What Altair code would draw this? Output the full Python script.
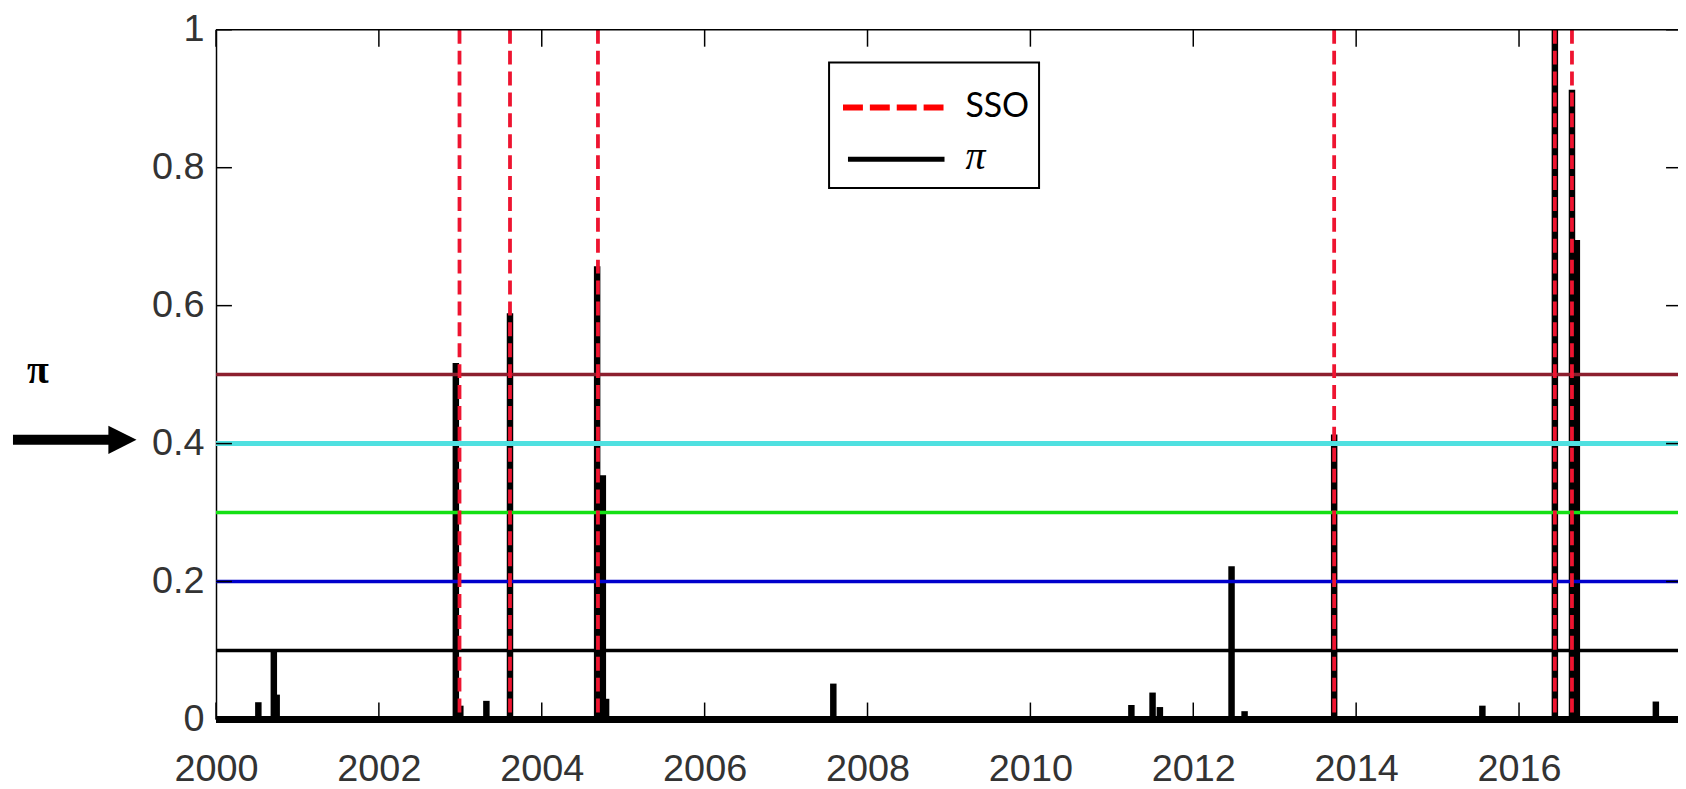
import altair as alt
import pandas as pd

# ---- data ----
pi_dates = [2000.52, 2000.71, 2000.745, 2002.945, 2003.0, 2003.32, 2003.61,
            2004.68, 2004.75, 2004.79, 2007.58, 2011.24, 2011.50, 2011.59,
            2012.47, 2012.63, 2013.73, 2015.55, 2016.44, 2016.65, 2016.71, 2017.68]
pi_values = [0.025, 0.102, 0.036, 0.517, 0.02, 0.027, 0.589,
             0.657, 0.354, 0.03, 0.052, 0.021, 0.039, 0.018,
             0.222, 0.012, 0.413, 0.02, 1.0, 0.913, 0.695, 0.026]
sso_dates = [2002.99, 2003.61, 2004.69, 2013.73, 2016.44, 2016.65]
threshold_levels = [0.5, 0.4, 0.3, 0.2, 0.1]
threshold_colors = ["#8C1F2E", "#4FE0E0", "#14E014", "#0000CC", "#000000"]
threshold_widths = [3.5, 5, 3.5, 3.5, 3.5]
x_tick_years = [2000, 2002, 2004, 2006, 2008, 2010, 2012, 2014, 2016]
y_tick_values = [0, 0.2, 0.4, 0.6, 0.8, 1.0]
x_start, x_end = 2000, 2017.952

W, H = 1469, 693

pi_df = pd.DataFrame({"date": pi_dates, "pi": pi_values, "base": [0.0] * len(pi_dates)})
base_df = pd.DataFrame({"x0": [x_start], "x1": [x_end], "y0": [0.0]})
thr_df = pd.DataFrame({"level": threshold_levels, "color": threshold_colors, "w": threshold_widths})
sso_df = pd.DataFrame({"date": sso_dates})
xt_df = pd.DataFrame({"year": x_tick_years})
yt_df = pd.DataFrame({"v": y_tick_values})
one = pd.DataFrame({"a": [0]})

xs = alt.Scale(domain=[x_start, x_end], nice=False, zero=False)
ys = alt.Scale(domain=[0, 1], nice=False, zero=False)
xaxis = alt.Axis(values=x_tick_years, format="d", title=None, tickSize=0, domain=False,
                 grid=False, labelFont="Liberation Sans", labelFontSize=38,
                 labelColor="#333333", labelPadding=31, labelFlush=False, labelOverlap=False)
yaxis = alt.Axis(values=y_tick_values, format="~g", title=None, tickSize=0, domain=True,
                 domainColor="black", domainWidth=1.5, grid=False,
                 labelFont="Liberation Sans", labelFontSize=38, labelColor="#333333",
                 labelPadding=12, labelOverlap=False)


def X(f):
    return alt.X(f, type="quantitative", scale=xs, axis=xaxis)


def Y(f):
    return alt.Y(f, type="quantitative", scale=ys, axis=yaxis)


stems = alt.Chart(pi_df).mark_rule(color="black", strokeWidth=6.5, strokeCap="butt").encode(
    x=X("date"), y=Y("base"), y2="pi")
baseline = alt.Chart(base_df).mark_rule(color="black", strokeWidth=7, strokeCap="butt").encode(
    x=X("x0"), x2="x1", y=Y("y0"))
thr = alt.Chart(thr_df).mark_rule(strokeCap="butt").encode(
    y=Y("level"),
    color=alt.Color("color:N", scale=None),
    strokeWidth=alt.StrokeWidth("w:Q", scale=None))
sso = alt.Chart(sso_df).mark_rule(color="#EE1430", strokeWidth=3.8, strokeDash=[14, 7],
                                  strokeCap="butt").encode(x=X("date"))

top_ticks = alt.Chart(xt_df).mark_rule(color="black", strokeWidth=1.5).encode(
    x=X("year"), y=alt.value(0), y2=alt.value(17))
bot_ticks = alt.Chart(xt_df).mark_rule(color="black", strokeWidth=1.5).encode(
    x=X("year"), y=alt.value(H - 17), y2=alt.value(H))
left_ticks = alt.Chart(yt_df).mark_rule(color="black", strokeWidth=1.5).encode(
    y=Y("v"), x=alt.value(0), x2=alt.value(16))
right_ticks = alt.Chart(yt_df).mark_rule(color="black", strokeWidth=1.5).encode(
    y=Y("v"), x=alt.value(W - 12), x2=alt.value(W))
frame_top = alt.Chart(one).mark_rule(color="black", strokeWidth=1.5).encode(
    x=alt.value(0), x2=alt.value(W), y=alt.value(0))

# legend (drawn by hand)
leg_box = alt.Chart(one).mark_rect(fill="white", stroke="black", strokeWidth=2).encode(
    x=alt.value(616), x2=alt.value(827), y=alt.value(33), y2=alt.value(159))
leg_sso = alt.Chart(one).mark_rule(color="#FF0000", strokeWidth=6, strokeDash=[20, 7],
                                   strokeCap="butt").encode(
    x=alt.value(630), x2=alt.value(731), y=alt.value(78))
leg_pi = alt.Chart(one).mark_rule(color="black", strokeWidth=5, strokeCap="butt").encode(
    x=alt.value(635), x2=alt.value(732), y=alt.value(130))
leg_t1 = alt.Chart(one).mark_text(text="SSO", font="Lato", fontSize=34, align="left",
                                  baseline="middle", color="black").encode(
    x=alt.value(753), y=alt.value(78))
leg_t2 = alt.Chart(one).mark_text(text="π", font="Liberation Serif", fontStyle="italic",
                                  fontSize=40, align="left", baseline="middle",
                                  color="black").encode(
    x=alt.value(753), y=alt.value(128))

# arrow annotation pointing to 0.4
arrow_shaft = alt.Chart(one).mark_rule(color="black", strokeWidth=10, strokeCap="butt").encode(
    x=alt.value(-204), x2=alt.value(-105), y=alt.value(412))
arrow_head = alt.Chart(one).mark_point(shape="M -1 -1 L 1 0 L -1 1 Z", filled=True, size=800,
                                       color="black", opacity=1).encode(
    x=alt.value(-94), y=alt.value(412))
pi_label = alt.Chart(one).mark_text(text="π", font="Liberation Serif", fontSize=40,
                                    fontWeight="bold", color="black", align="center",
                                    baseline="middle").encode(
    x=alt.value(-179), y=alt.value(343))

chart = alt.layer(
    stems, baseline, thr, sso, top_ticks, bot_ticks, left_ticks, right_ticks, frame_top,
    leg_box, leg_sso, leg_pi, leg_t1, leg_t2, arrow_shaft, arrow_head, pi_label
).properties(
    width=W, height=H,
    autosize=alt.AutoSizeParams(type="none"),
    padding={"left": 209, "top": 20, "right": 0, "bottom": 68},
    background="white",
).configure_view(stroke=None)

chart.save("out.html", embed_options={"renderer": "svg", "actions": False})
